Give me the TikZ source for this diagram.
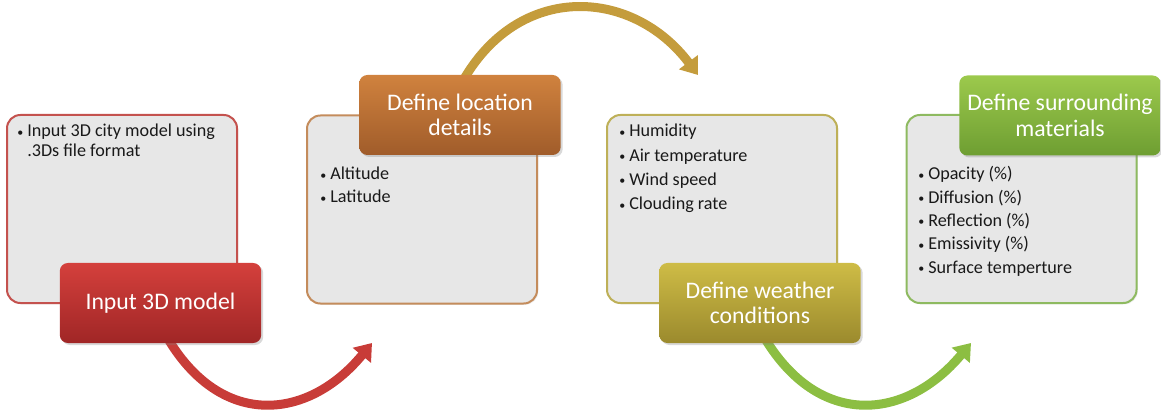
\documentclass[tikz,border=0pt]{standalone}
\usepackage{fontspec}
\setmainfont{Carlito}
\usetikzlibrary{arrows.meta,shadows}
\definecolor{boxgray}{RGB}{231,231,231}
\definecolor{redline}{RGB}{196,82,78}
\definecolor{orangeline}{RGB}{196,140,92}
\definecolor{oliveline}{RGB}{190,176,88}
\definecolor{greenline}{RGB}{142,186,96}
\definecolor{redtop}{RGB}{212,64,60}
\definecolor{redbot}{RGB}{160,38,38}
\definecolor{orangetop}{RGB}{208,130,62}
\definecolor{orangebot}{RGB}{160,92,42}
\definecolor{olivetop}{RGB}{206,188,70}
\definecolor{olivebot}{RGB}{155,138,45}
\definecolor{greentop}{RGB}{156,201,76}
\definecolor{greenbot}{RGB}{110,158,50}
\definecolor{redarrow}{RGB}{200,60,56}
\definecolor{goldarrow}{RGB}{196,156,60}
\definecolor{greenarrow}{RGB}{140,190,66}
\tikzstyle{infobox} = [draw, line width=1.5pt, rounded corners=10pt, fill=boxgray, minimum width=172.5pt, minimum height=141pt, inner sep=0pt, drop shadow={opacity=0.15, shadow xshift=1pt, shadow yshift=-1pt}]
\tikzstyle{titlebox} = [rounded corners=6pt, minimum width=151pt, minimum height=60pt, inner sep=2pt, align=center, text=white, font=\fontsize{17.8}{19}\selectfont, drop shadow={opacity=0.3, shadow xshift=1.5pt, shadow yshift=-1.5pt}]
\tikzstyle{bullets} = [anchor=base west, inner sep=0pt, font=\fontsize{13.6}{15}\selectfont, text=black!90]
\tikzstyle{flowarrow} = [line width=6.75pt, -{Triangle[length=12pt,width=17pt]}]
\newcommand{\itm}{\makebox[7.5pt][l]{\fontsize{9}{9}\selectfont\raisebox{0.6pt}{\textbullet}}}

\begin{document}
\begin{tikzpicture}[x=0.75pt,y=-0.75pt]
\useasboundingbox (0,0) rectangle (1161,417);

% arrows first, they run under the title boxes
\coordinate (a1s) at (163,330);
\coordinate (a1e) at (372,343);
\coordinate (a2s) at (458,90);
\coordinate (a2e) at (698,75);
\coordinate (a3s) at (760,330);
\coordinate (a3e) at (971,343);
\draw[flowarrow, redarrow] (a1s) .. controls (217,430) and (307,422) .. (a1e);
\draw[flowarrow, goldarrow] (a2s) .. controls (513,-19) and (631,-14) .. (a2e);
\draw[flowarrow, greenarrow] (a3s) .. controls (815,430) and (905,422) .. (a3e);

% grey boxes
\node[infobox, draw=redline] (box1) at (122,209) {};
\node[infobox, draw=orangeline] (box2) at (422,209.5) {};
\node[infobox, draw=oliveline] (box3) at (722,209) {};
\node[infobox, draw=greenline] (box4) at (1021.5,209) {};

% bullet lists
\node[bullets] (input1) at (17,137) {\itm Input 3D city model using};
\node[bullets] (input2) at (27,157) {.3Ds file format};
\foreach \t [count=\i] in {Altitude, Latitude}
  \node[bullets] (loc\i) at (320,{180+23*(\i-1)}) {\itm \t};
\foreach \t [count=\i] in {Humidity, Air temperature, Wind speed, Clouding rate}
  \node[bullets] (weather\i) at (619,{137+24.3*(\i-1)}) {\itm \t};
\foreach \t [count=\i] in {Opacity (\%), Diffusion (\%), Reflection (\%), Emissivity (\%), Surface temperture}
  \node[bullets] (mat\i) at (918,{180+23.3*(\i-1)}) {\itm \t};

% title boxes
\node[titlebox, top color=redtop, bottom color=redbot] (model) at (160.5,303) {Input 3D model};
\node[titlebox, top color=orangetop, bottom color=orangebot] (location) at (460,115) {Define location\\details};
\node[titlebox, top color=olivetop, bottom color=olivebot] (weather) at (760,303) {Define weather\\conditions};
\node[titlebox, top color=greentop, bottom color=greenbot] (materials) at (1060,115.5) {Define surrounding\\materials};
\end{tikzpicture}
\end{document}
